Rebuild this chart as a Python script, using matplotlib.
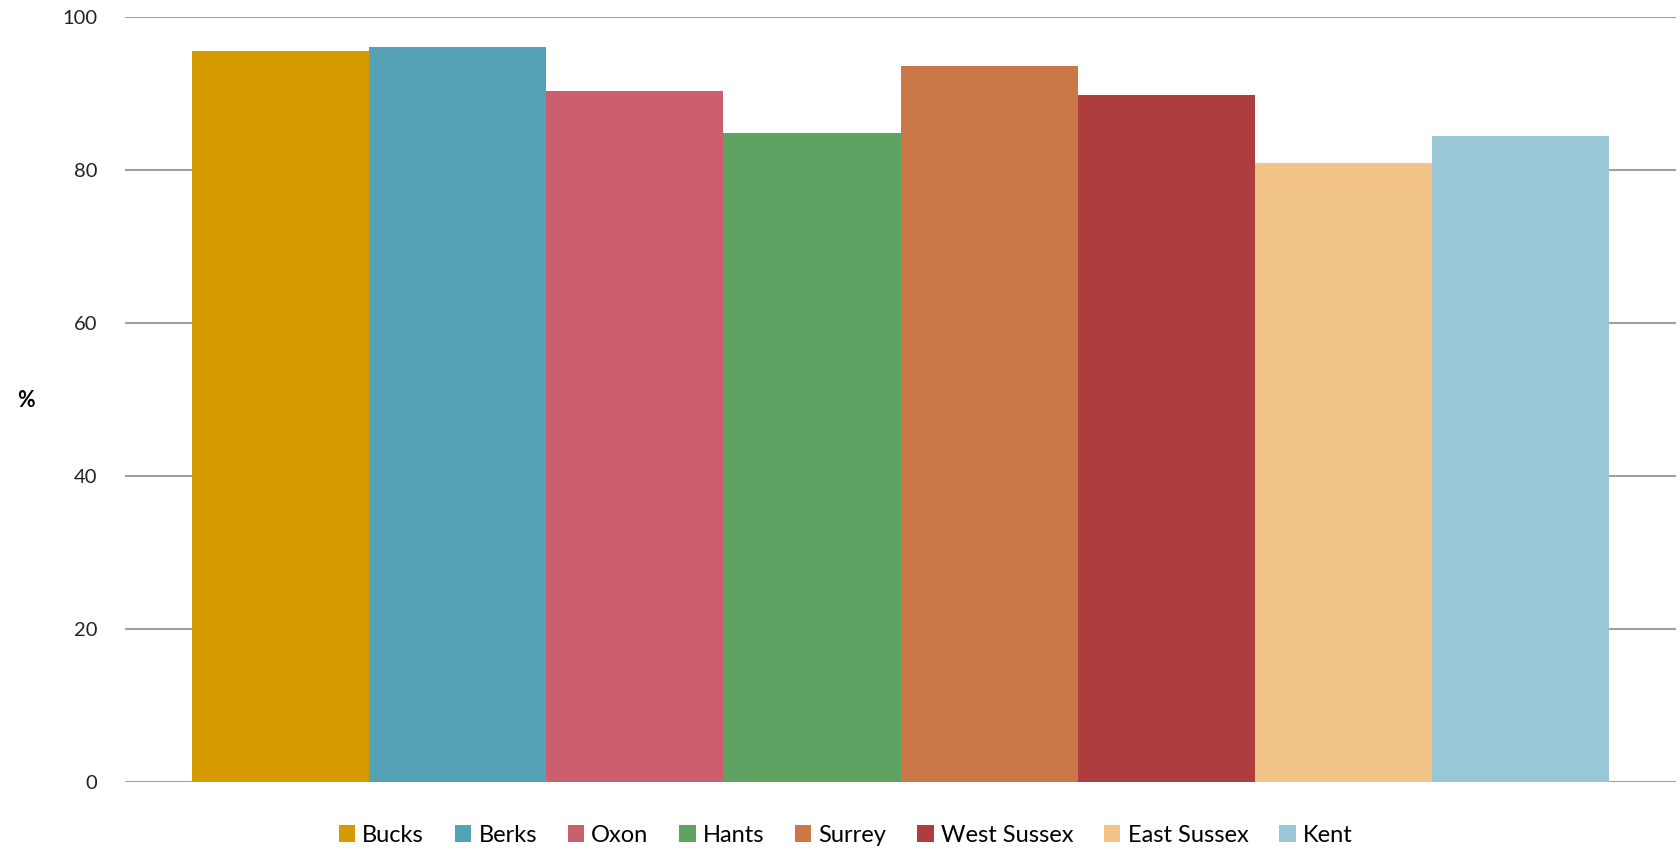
import matplotlib.pyplot as plt
from matplotlib.patches import Patch

counties = ['Bucks', 'Berks', 'Oxon', 'Hants', 'Surrey', 'West Sussex', 'East Sussex', 'Kent']
values = [95.6, 96.1, 90.3, 84.8, 93.6, 89.8, 80.9, 84.4]
colours = ['#D49A00', '#55A2B6', '#CB5F6D', '#5EA361', '#CC7748', '#AE3D3E', '#F3C487', '#9AC7D7']
yticks = [0, 20, 40, 60, 80, 100]

plt.rcParams['font.family'] = ['Lato', 'DejaVu Sans']

fig = plt.figure(figsize=(16.81, 8.48), dpi=100)
ax = fig.add_axes([0.0746, 0.0783, 0.9222, 0.9014])

pos = list(range(len(counties)))
ax.bar(pos, values, width=1.0, color=colours, zorder=2)

ax.set_ylim(0, 100)
ax.set_xlim(-0.876, 7.876)
ax.set_yticks(yticks)
ax.set_yticklabels([str(t) for t in yticks], fontsize=14.5, color='#222222')
ax.set_xticks([])
ax.tick_params(axis='y', length=0, pad=20)
ax.yaxis.grid(True, color='#A0A0A0', linewidth=1.5, zorder=0)
ax.set_axisbelow(True)
for s in ax.spines.values():
    s.set_visible(False)

fig.text(0.0155, 0.528, '%', fontsize=15.5, fontweight='bold', ha='center', va='center')

handles = [Patch(facecolor=c, edgecolor='none') for c in colours]
fig.legend(handles, counties, loc='center', bbox_to_anchor=(0.503, 0.015), ncol=8,
           frameon=False, fontsize=17, handlelength=0.7, handleheight=0.7,
           handletextpad=0.3, columnspacing=1.3)

fig.savefig('out.png', dpi=100)
